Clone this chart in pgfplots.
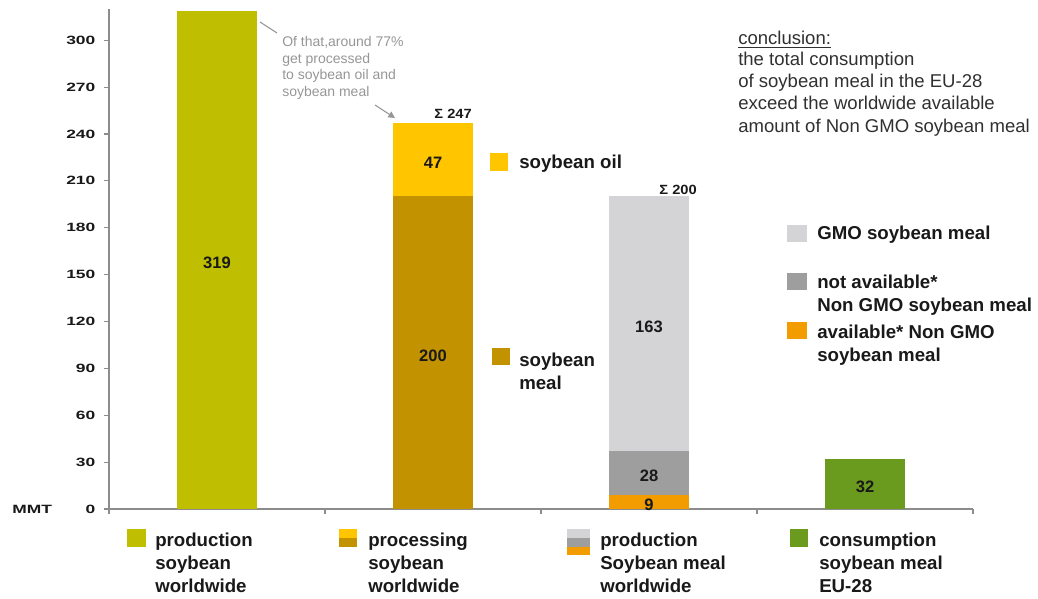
\documentclass[border=0pt]{standalone}
\usepackage{pgfplots}
\pgfplotsset{compat=1.18}
\usepackage{graphicx}
\usepackage{fontspec}
\setmainfont{Liberation Sans}
\usetikzlibrary{arrows.meta}
\definecolor{cOlive}{RGB}{192,190,0}
\definecolor{cMeal}{RGB}{194,146,0}
\definecolor{cOil}{RGB}{255,198,0}
\definecolor{cGMO}{RGB}{212,212,214}
\definecolor{cNotAv}{RGB}{158,158,158}
\definecolor{cAvail}{RGB}{243,156,0}
\definecolor{cGreen}{RGB}{106,154,30}
\definecolor{cAxis}{RGB}{140,140,140}
\definecolor{cText}{RGB}{25,25,25}
\definecolor{cNote}{RGB}{150,150,150}
\tikzset{
  vl/.style={font=\fontsize{12.4}{14}\selectfont\bfseries, text=cText, inner sep=0pt, yshift=-2pt},
  lg/.style={font=\fontsize{14}{17}\selectfont\bfseries, text=cText, anchor=base west, inner sep=0pt},
  nt/.style={font=\fontsize{10.5}{12}\selectfont, text=cNote, anchor=base west, inner sep=0pt},
  cc/.style={font=\fontsize{13.9}{16}\selectfont, text=cText!90, anchor=base west, inner sep=0pt},
  sg/.style={font=\fontsize{10}{11}\selectfont\bfseries, text=cText, anchor=base east, inner sep=0pt},
}
\begin{document}
\begin{tikzpicture}
\useasboundingbox (0,0) rectangle (778.5pt,449.25pt);
\begin{axis}[
  at={(81.75pt,67.5pt)}, anchor=south west,
  scale only axis, width=648pt, height=375pt,
  xmin=0, xmax=4, ymin=0, ymax=320,
  axis x line*=bottom, axis y line*=left,
  axis line style={draw=cAxis, line width=0.9pt},
  xtick={0,1,2,3,4}, xticklabels={},
  ytick={0,30,...,300},
  tick align=outside, major tick length=3.75pt,
  tick style={draw=cAxis, line width=0.9pt},
  /pgf/number format/assume math mode=true,
  yticklabel={\scalebox{1.45}[1]{\pgfmathprintnumber{\tick}}},
  yticklabel style={font=\fontsize{9}{10}\selectfont\bfseries, text=cText, xshift=-3pt},
  ybar stacked, bar width=0.37,
  clip=false,
]
\addplot[fill=cOlive, draw=none] coordinates {(0.5,319) (1.5,0) (2.5,0) (3.5,0)};
\addplot[fill=cMeal, draw=none] coordinates {(0.5,0) (1.5,200) (2.5,0) (3.5,0)};
\addplot[fill=cOil, draw=none] coordinates {(0.5,0) (1.5,47) (2.5,0) (3.5,0)};
\addplot[fill=cAvail, draw=none] coordinates {(0.5,0) (1.5,0) (2.5,9) (3.5,0)};
\addplot[fill=cNotAv, draw=none] coordinates {(0.5,0) (1.5,0) (2.5,28) (3.5,0)};
\addplot[fill=cGMO, draw=none] coordinates {(0.5,0) (1.5,0) (2.5,163) (3.5,0)};
\addplot[fill=cGreen, draw=none] coordinates {(0.5,0) (1.5,0) (2.5,0) (3.5,32)};
\coordinate (a) at (axis cs:0.5,159.5);
\coordinate (b) at (axis cs:1.5,223.5);
\coordinate (c) at (axis cs:1.5,100);
\coordinate (d) at (axis cs:2.5,118.5);
\coordinate (e) at (axis cs:2.5,23);
\coordinate (f) at (axis cs:2.5,4.5);
\coordinate (g) at (axis cs:3.5,16);
\end{axis}
\node[vl] at (a) {319};
\node[vl] at (b) {47};
\node[vl] at (c) {200};
\node[vl] at (d) {163};
\node[vl] at (e) {28};
\node[vl] at (f) {9};
\node[vl] at (g) {32};
\begin{scope}[x=0.75pt,y=-0.75pt,yshift=449.25pt]
% MMT
\node[font=\fontsize{9}{10}\selectfont\bfseries, text=cText, anchor=base west, inner sep=0pt] at (12,513.5) {\scalebox{1.45}[1]{MMT}};
% note
\draw[cNote, line width=0.8pt] (260,22) -- (277,33);
\node[nt] at (282,47) {Of that,around 77\%};
\node[nt] at (282,63.5) {get processed};
\node[nt] at (282,80) {to soybean oil and};
\node[nt] at (282,96.5) {soybean meal};
\draw[cNote, line width=0.8pt, -{Triangle[length=5pt,width=5pt]}] (375,105) -- (395,118);
% sums
\node[sg] at (472,119) {\scalebox{1.1}[1]{Σ 247}};
\node[sg] at (697,195) {\scalebox{1.1}[1]{Σ 200}};
% inline legends
\fill[cOil] (490,153) rectangle (508,171);
\node[lg] at (519,169) {soybean oil};
\fill[cMeal] (492,348) rectangle (510,365);
\node[lg] at (519,367) {soybean};
\node[lg] at (519,390) {meal};
\fill[cGMO] (787,225) rectangle (807,242);
\node[lg] at (817,240) {GMO soybean meal};
\fill[cNotAv] (787,273) rectangle (807,290);
\node[lg] at (817,289) {not available*};
\node[lg] at (817,312) {Non GMO soybean meal};
\fill[cAvail] (787,322) rectangle (807,339);
\node[lg] at (817,339) {available* Non GMO};
\node[lg] at (817,362) {soybean meal};
% conclusion
\node[cc] at (738,45) {\underline{conclusion:}};
\node[cc] at (738,66) {the total consumption};
\node[cc] at (738,88) {of soybean meal in the EU-28};
\node[cc] at (738,110) {exceed the worldwide available};
\node[cc] at (738,133) {amount of Non GMO soybean meal};
% bottom legend
\fill[cOlive] (127,529) rectangle (146,547);
\node[lg] at (155,547) {production};
\node[lg] at (155,569.7) {soybean};
\node[lg] at (155,592.4) {worldwide};
\fill[cOil] (339,529) rectangle (357,538);
\fill[cMeal] (339,538) rectangle (357,547);
\node[lg] at (368,547) {processing};
\node[lg] at (368,569.7) {soybean};
\node[lg] at (368,592.4) {worldwide};
\fill[cGMO] (567,529) rectangle (590,538);
\fill[cNotAv] (567,538) rectangle (590,547);
\fill[cAvail] (567,547) rectangle (590,555);
\node[lg] at (600,547) {production};
\node[lg] at (600,569.7) {Soybean meal};
\node[lg] at (600,592.4) {worldwide};
\fill[cGreen] (790,529) rectangle (808,547);
\node[lg] at (819,547) {consumption};
\node[lg] at (819,569.7) {soybean meal};
\node[lg] at (819,592.4) {EU-28};
\end{scope}
\end{tikzpicture}
\end{document}
